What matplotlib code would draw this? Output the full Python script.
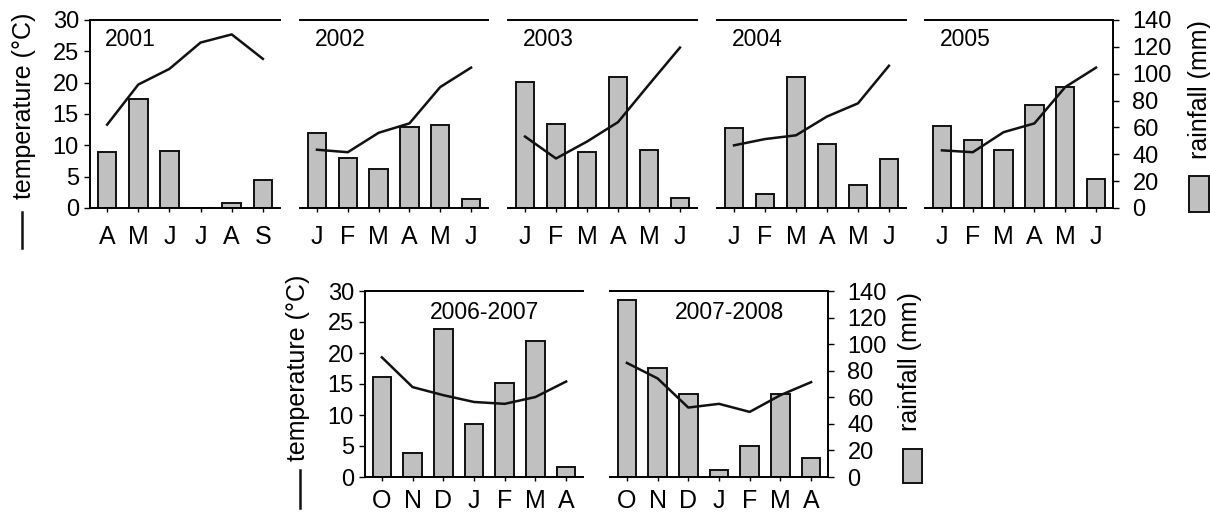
import matplotlib
matplotlib.use('Agg')
import matplotlib.pyplot as plt
from matplotlib.lines import Line2D
from matplotlib.patches import Rectangle

plt.rcParams['font.family'] = ['Liberation Sans', 'DejaVu Sans']

# data: rainfall (mm) bars, temperature (C) line
years = ['2001', '2002', '2003', '2004', '2005', '2006-2007', '2007-2008']
months = [
    ['A', 'M', 'J', 'J', 'A', 'S'],
    ['J', 'F', 'M', 'A', 'M', 'J'],
    ['J', 'F', 'M', 'A', 'M', 'J'],
    ['J', 'F', 'M', 'A', 'M', 'J'],
    ['J', 'F', 'M', 'A', 'M', 'J'],
    ['O', 'N', 'D', 'J', 'F', 'M', 'A'],
    ['O', 'N', 'D', 'J', 'F', 'M', 'A'],
]
rain_2001 = [41.5, 80.8, 42.8, 0, 3.5, 20.9]
rain_2002 = [56, 37.3, 29, 60, 62, 6.7]
rain_2003 = [93.8, 62.2, 42, 97.6, 43.3, 7.2]
rain_2004 = [59.5, 10.2, 97.5, 47.3, 17.4, 36.5]
rain_2005 = [61, 51, 43.5, 77, 90, 21.6]
rain_2006 = [75.3, 17.8, 111.7, 39.6, 70.7, 102, 7.8]
rain_2007 = [133, 82, 62.2, 5.5, 23, 62.2, 14.5]
temp_2001 = [13.3, 19.7, 22.2, 26.4, 27.7, 23.8]
temp_2002 = [9.3, 8.9, 12.0, 13.5, 19.3, 22.4]
temp_2003 = [11.4, 7.9, 10.6, 13.7, 19.7, 25.6]
temp_2004 = [10.0, 11.0, 11.6, 14.6, 16.7, 22.7]
temp_2005 = [9.2, 8.9, 12.1, 13.5, 19.3, 22.4]
temp_2006 = [19.3, 14.5, 13.2, 12.1, 11.8, 12.9, 15.4]
temp_2007 = [18.4, 15.9, 11.2, 11.8, 10.5, 13.2, 15.3]
rain = [rain_2001, rain_2002, rain_2003, rain_2004, rain_2005, rain_2006, rain_2007]
temp = [temp_2001, temp_2002, temp_2003, temp_2004, temp_2005, temp_2006, temp_2007]
temp_ticks = [0, 5, 10, 15, 20, 25, 30]
rain_ticks = [0, 20, 40, 60, 80, 100, 120, 140]

W, H = 1210, 517
fig = plt.figure(figsize=(W / 100, H / 100), dpi=100)


def rect(l, t, w, h):
    return [l / W, 1 - (t + h) / H, w / W, h / H]


# panel boxes in pixels: left, top, width, height
boxes = [(90, 20, 190, 188), (300, 20, 188, 188), (508, 20, 189, 188),
         (717, 20, 189, 188), (925, 20, 188, 188),
         (365, 291, 218, 186), (610, 291, 218, 186)]
first = [0, 5]
last = [4, 6]
gray = '#c0c0c0'

for i in range(7):
    ax = fig.add_axes(rect(*boxes[i]))
    ax2 = ax.twinx()
    ax.set_zorder(ax2.get_zorder() + 1)
    ax.patch.set_visible(False)
    n = len(months[i])
    x = list(range(n))
    ax2.bar(x, rain[i], width=0.6, color=gray, edgecolor='#111111', linewidth=1.4)
    ax.plot(x, temp[i], color='#111111', lw=1.8)
    ax.set_xlim(-0.55, n - 0.45)
    ax.set_ylim(0, 30)
    ax2.set_ylim(0, 140)
    ax.set_xticks(x)
    ax.set_xticklabels(months[i])
    pad = 9 if i < 5 else 6
    ax.tick_params(axis='x', direction='out', length=3, width=1, pad=pad, labelsize=18)
    for s in ax2.spines.values():
        s.set_visible(False)
    ax.spines['right'].set_visible(False)
    for s in ['top', 'bottom', 'left']:
        ax.spines[s].set_linewidth(1.4)
    if i in first:
        ax.set_yticks(temp_ticks)
        ax.tick_params(axis='y', direction='out', length=4, width=1, pad=4, labelsize=17)
    else:
        ax.spines['left'].set_visible(False)
        ax.set_yticks([])
    if i in last:
        ax2.spines['right'].set_visible(True)
        ax2.spines['right'].set_linewidth(1.4)
        ax2.set_yticks(rain_ticks)
        ax2.tick_params(axis='y', direction='out', length=4, width=1, pad=10, labelsize=17)
    else:
        ax2.set_yticks([])
    if i < 5:
        ax.text(0.08, 0.955, years[i], transform=ax.transAxes, ha='left', va='top', fontsize=16.5)
    else:
        ax.text(0.55, 0.945, years[i], transform=ax.transAxes, ha='center', va='top', fontsize=16.5)

# axis titles with their symbol keys
for cx, cy, lx, ly0, ly1 in [(24, 106, 22, 212, 248), (298, 368, 300, 470, 508)]:
    fig.text(cx / W, 1 - cy / H, 'temperature (°C)', rotation=90, ha='center', va='center', fontsize=18)
    fig.add_artist(Line2D([lx / W, lx / W], [1 - ly0 / H, 1 - ly1 / H], color='#111111', lw=1.8))

for cx, cy, rl, rt, rw, rh in [(1200, 90, 1189, 176, 20, 36), (910, 362, 903, 449, 19, 34)]:
    fig.text(cx / W, 1 - cy / H, 'rainfall (mm)', rotation=90, ha='center', va='center', fontsize=18)
    fig.add_artist(Rectangle((rl / W, 1 - (rt + rh) / H), rw / W, rh / H, transform=fig.transFigure,
                             facecolor=gray, edgecolor='#111111', lw=1.4))

fig.savefig('out.png', dpi=100)
